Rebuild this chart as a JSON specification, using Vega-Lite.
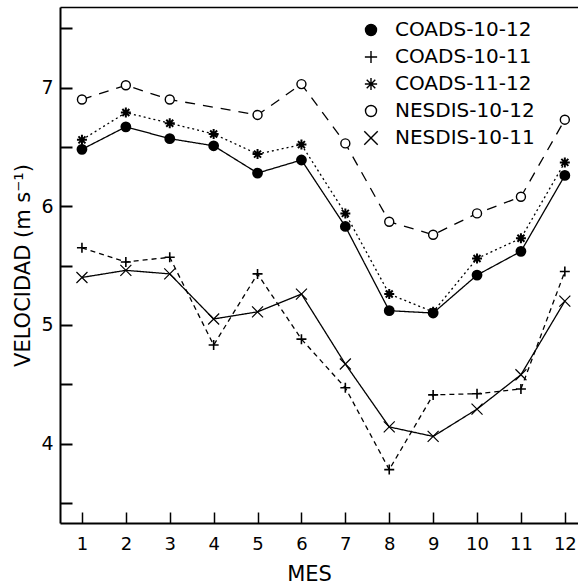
{
  "$schema": "https://vega.github.io/schema/vega-lite/v6.json",
  "autosize": {"type": "none"},
  "padding": {"left": 60, "top": 7, "right": 0, "bottom": 63},
  "width": 518,
  "height": 516,
  "background": "white",
  "config": {
    "view": {"stroke": null},
    "font": "DejaVu Sans",
    "axis": {
      "grid": false,
      "domainColor": "black",
      "tickColor": "black",
      "labelColor": "black",
      "titleColor": "black",
      "labelFont": "DejaVu Sans",
      "titleFont": "DejaVu Sans",
      "labelFontSize": 18,
      "titleFontSize": 21,
      "titleFontWeight": "normal"
    },
    "legend": {
      "labelFont": "DejaVu Sans",
      "labelFontSize": 20,
      "labelColor": "black"
    }
  },
  "data": {
    "values": [
      {"mes": 1, "serie": "COADS-10-12", "v": 6.48},
      {"mes": 2, "serie": "COADS-10-12", "v": 6.67},
      {"mes": 3, "serie": "COADS-10-12", "v": 6.57},
      {"mes": 4, "serie": "COADS-10-12", "v": 6.51},
      {"mes": 5, "serie": "COADS-10-12", "v": 6.28},
      {"mes": 6, "serie": "COADS-10-12", "v": 6.39},
      {"mes": 7, "serie": "COADS-10-12", "v": 5.83},
      {"mes": 8, "serie": "COADS-10-12", "v": 5.12},
      {"mes": 9, "serie": "COADS-10-12", "v": 5.10},
      {"mes": 10, "serie": "COADS-10-12", "v": 5.42},
      {"mes": 11, "serie": "COADS-10-12", "v": 5.62},
      {"mes": 12, "serie": "COADS-10-12", "v": 6.26},
      {"mes": 1, "serie": "COADS-10-11", "v": 5.65},
      {"mes": 2, "serie": "COADS-10-11", "v": 5.53},
      {"mes": 3, "serie": "COADS-10-11", "v": 5.57},
      {"mes": 4, "serie": "COADS-10-11", "v": 4.83},
      {"mes": 5, "serie": "COADS-10-11", "v": 5.43},
      {"mes": 6, "serie": "COADS-10-11", "v": 4.88},
      {"mes": 7, "serie": "COADS-10-11", "v": 4.47},
      {"mes": 8, "serie": "COADS-10-11", "v": 3.78},
      {"mes": 9, "serie": "COADS-10-11", "v": 4.41},
      {"mes": 10, "serie": "COADS-10-11", "v": 4.42},
      {"mes": 11, "serie": "COADS-10-11", "v": 4.46},
      {"mes": 12, "serie": "COADS-10-11", "v": 5.45},
      {"mes": 1, "serie": "COADS-11-12", "v": 6.56},
      {"mes": 2, "serie": "COADS-11-12", "v": 6.79},
      {"mes": 3, "serie": "COADS-11-12", "v": 6.70},
      {"mes": 4, "serie": "COADS-11-12", "v": 6.61},
      {"mes": 5, "serie": "COADS-11-12", "v": 6.44},
      {"mes": 6, "serie": "COADS-11-12", "v": 6.52},
      {"mes": 7, "serie": "COADS-11-12", "v": 5.94},
      {"mes": 8, "serie": "COADS-11-12", "v": 5.26},
      {"mes": 9, "serie": "COADS-11-12", "v": 5.11},
      {"mes": 10, "serie": "COADS-11-12", "v": 5.56},
      {"mes": 11, "serie": "COADS-11-12", "v": 5.73},
      {"mes": 12, "serie": "COADS-11-12", "v": 6.37},
      {"mes": 1, "serie": "NESDIS-10-12", "v": 6.90},
      {"mes": 2, "serie": "NESDIS-10-12", "v": 7.02},
      {"mes": 3, "serie": "NESDIS-10-12", "v": 6.90},
      {"mes": 5, "serie": "NESDIS-10-12", "v": 6.77},
      {"mes": 6, "serie": "NESDIS-10-12", "v": 7.03},
      {"mes": 7, "serie": "NESDIS-10-12", "v": 6.53},
      {"mes": 8, "serie": "NESDIS-10-12", "v": 5.87},
      {"mes": 9, "serie": "NESDIS-10-12", "v": 5.76},
      {"mes": 10, "serie": "NESDIS-10-12", "v": 5.94},
      {"mes": 11, "serie": "NESDIS-10-12", "v": 6.08},
      {"mes": 12, "serie": "NESDIS-10-12", "v": 6.73},
      {"mes": 1, "serie": "NESDIS-10-11", "v": 5.40},
      {"mes": 2, "serie": "NESDIS-10-11", "v": 5.46},
      {"mes": 3, "serie": "NESDIS-10-11", "v": 5.43},
      {"mes": 4, "serie": "NESDIS-10-11", "v": 5.05},
      {"mes": 5, "serie": "NESDIS-10-11", "v": 5.11},
      {"mes": 6, "serie": "NESDIS-10-11", "v": 5.26},
      {"mes": 7, "serie": "NESDIS-10-11", "v": 4.67},
      {"mes": 8, "serie": "NESDIS-10-11", "v": 4.14},
      {"mes": 9, "serie": "NESDIS-10-11", "v": 4.06},
      {"mes": 10, "serie": "NESDIS-10-11", "v": 4.29},
      {"mes": 11, "serie": "NESDIS-10-11", "v": 4.58},
      {"mes": 12, "serie": "NESDIS-10-11", "v": 5.20}
    ]
  },
  "layer": [
    {
      "mark": {"type": "line", "color": "black", "strokeWidth": 1.3},
      "encoding": {
        "x": {
          "field": "mes", "type": "quantitative",
          "scale": {"domain": [0.5, 12.3], "nice": false, "zero": false},
          "axis": {
            "orient": "bottom",
            "title": "MES",
            "values": [1, 2, 3, 4, 5, 6, 7, 8, 9, 10, 11, 12],
            "format": "d",
            "domainWidth": 2,
            "tickWidth": 1.5,
            "tickSize": -11,
            "labelPadding": 23,
            "labelFlush": false,
            "titleX": 249,
            "titleY": 57,
            "titleBaseline": "alphabetic",
            "titleAnchor": null
          }
        },
        "y": {
          "field": "v", "type": "quantitative",
          "scale": {"domain": [3.33, 7.68], "nice": false, "zero": false},
          "axis": {
            "orient": "left",
            "title": "VELOCIDAD (m s⁻¹)",
            "values": [3.5, 4, 4.5, 5, 5.5, 6, 6.5, 7, 7.5],
            "labelExpr": "datum.value % 1 === 0 ? format(datum.value, 'd') : ''",
            "domainWidth": 2,
            "tickWidth": 2,
            "tickSize": -12,
            "labelPadding": 19,
            "labelFontSize": 19,
            "labelFlush": false,
            "titleX": -31,
            "titleY": 258,
            "titleBaseline": "alphabetic",
            "titleAnchor": null
          }
        },
        "strokeDash": {
          "field": "serie", "type": "nominal",
          "scale": {
            "domain": ["NESDIS-10-11", "NESDIS-10-12", "COADS-11-12", "COADS-10-11", "COADS-10-12"],
            "range": [[1, 0], [10, 8], [2, 3], [5, 4], [1, 0]]
          },
          "legend": null
        }
      }
    },
    {
      "mark": {"type": "point", "filled": true, "stroke": "black", "size": 100, "opacity": 1},
      "encoding": {
        "x": {
          "field": "mes", "type": "quantitative",
          "axis": {
            "orient": "top",
            "title": null,
            "labels": false,
            "ticks": false,
            "domainWidth": 1.5
          }
        },
        "y": {"field": "v", "type": "quantitative"},
        "shape": {
          "field": "serie", "type": "nominal",
          "scale": {
            "domain": ["COADS-10-12", "COADS-10-11", "COADS-11-12", "NESDIS-10-12", "NESDIS-10-11"],
            "range": [
              "M-0.9,0A0.9,0.9,0,1,0,0.9,0A0.9,0.9,0,1,0,-0.9,0Z",
              "M-1,0L1,0M0,-1L0,1",
              "M-1,0L1,0M0,-1L0,1M-0.7,-0.7L0.7,0.7M-0.7,0.7L0.7,-0.7",
              "M-0.9,0A0.9,0.9,0,1,0,0.9,0A0.9,0.9,0,1,0,-0.9,0Z",
              "M-1.1,-1.1L1.1,1.1M-1.1,1.1L1.1,-1.1"
            ]
          },
          "legend": {
            "title": null,
            "orient": "none",
            "legendX": 301,
            "legendY": 13,
            "padding": 0,
            "symbolSize": 150,
            "symbolStrokeWidth": 1.4,
            "symbolOpacity": 1,
            "labelOffset": 14,
            "rowPadding": 7
          }
        },
        "fill": {
          "field": "serie", "type": "nominal",
          "scale": {
            "domain": ["COADS-10-12", "COADS-10-11", "COADS-11-12", "NESDIS-10-12", "NESDIS-10-11"],
            "range": ["black", "black", "black", "white", "black"]
          },
          "legend": {
            "title": null,
            "orient": "none",
            "legendX": 301,
            "legendY": 13,
            "padding": 0,
            "symbolSize": 150,
            "symbolStrokeWidth": 1.4,
            "symbolOpacity": 1,
            "labelOffset": 14,
            "rowPadding": 7
          }
        },
        "strokeWidth": {
          "field": "serie", "type": "nominal",
          "scale": {
            "domain": ["COADS-11-12", "COADS-10-12", "COADS-10-11", "NESDIS-10-12", "NESDIS-10-11"],
            "range": [2, 1.2, 1.3, 1.4, 1.4]
          },
          "legend": null
        }
      }
    }
  ]
}
